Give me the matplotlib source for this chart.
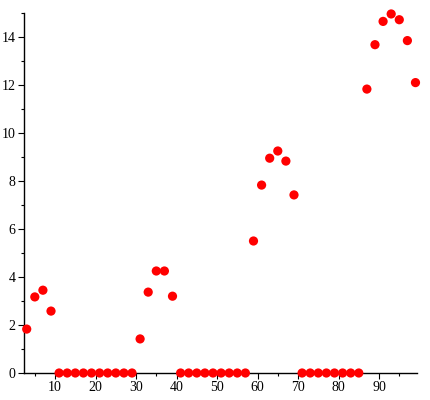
import matplotlib
matplotlib.use("Agg")
import matplotlib.pyplot as plt
from matplotlib.ticker import MultipleLocator, FixedLocator

# sample positions and values
x_vals = list(range(3, 100, 2))
y_vals = [1.83, 3.17, 3.45, 2.58] + [0.0] * 10 + \
         [1.42, 3.37, 4.25, 4.25, 3.2] + [0.0] * 9 + \
         [5.5, 7.83, 8.95, 9.25, 8.83, 7.42] + [0.0] * 8 + \
         [11.83, 13.68, 14.65, 14.96, 14.72, 13.85, 12.1]
x_ticks = [10, 20, 30, 40, 50, 60, 70, 80, 90]

fig = plt.figure(figsize=(4.3, 4.0), dpi=100)
ax = fig.add_axes([0.056, 0.0675, 0.914, 0.9])

ax.scatter(x_vals, y_vals, s=44, color="#ff0000", edgecolors="none", zorder=3, clip_on=False)

ax.set_xlim(2.35, 99.4)
ax.set_ylim(0, 15)
ax.xaxis.set_major_locator(FixedLocator(x_ticks))
ax.xaxis.set_minor_locator(MultipleLocator(5))
ax.yaxis.set_major_locator(MultipleLocator(2))
ax.yaxis.set_minor_locator(MultipleLocator(1))

for side in ("top", "right"):
    ax.spines[side].set_visible(False)
for side in ("left", "bottom"):
    ax.spines[side].set_linewidth(1.0)

ax.tick_params(which="major", length=4, width=0.8, labelsize=10, pad=2)
ax.tick_params(which="minor", length=2, width=0.8)
for lab in ax.get_xticklabels() + ax.get_yticklabels():
    lab.set_family("Liberation Serif")

fig.savefig("out.png", dpi=100)
